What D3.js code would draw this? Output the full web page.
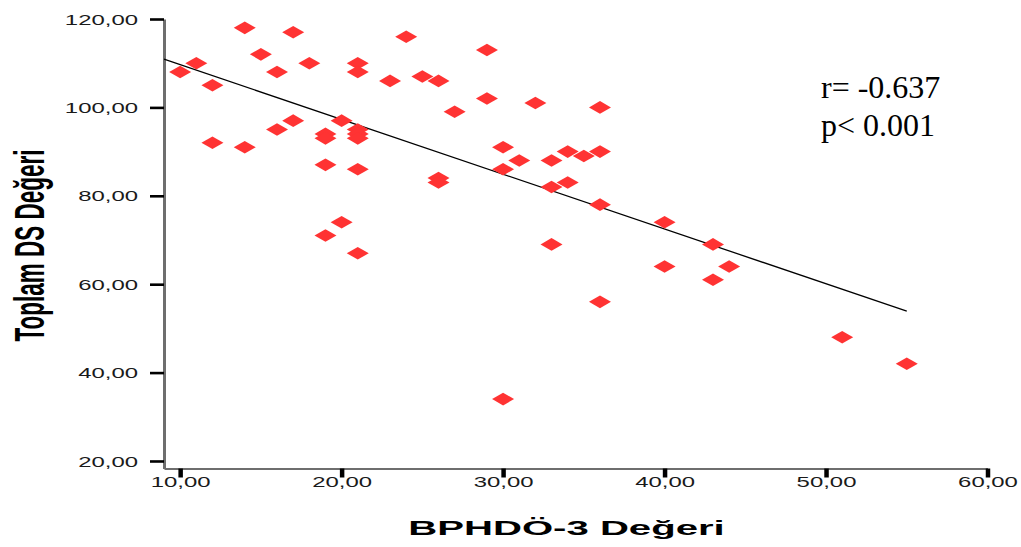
<!DOCTYPE html>
<html>
<head>
<meta charset="utf-8">
<script src="https://cdn.jsdelivr.net/npm/d3@7"></script>
<style>
  html, body { margin: 0; padding: 0; background: #ffffff; }
  svg { display: block; }
</style>
</head>
<body>
<svg id="chart" width="1021" height="547"></svg>
<script>
// ---- data ----
const bphdoValues = [10, 11, 12, 12, 14, 14, 15, 16, 16, 17, 17, 18, 19, 19, 19, 19, 20, 20,
  21, 21, 21, 21, 21, 21, 21, 23, 24, 25, 26, 26, 26, 27, 29, 29, 30, 30, 30, 31, 32, 33,
  33, 33, 34, 35, 36, 36, 36, 36, 40, 40, 43, 43, 44, 51, 55, 34];
const dsValues = [108, 110, 105, 92, 118, 91, 112, 108, 95, 117, 97, 110, 94, 93, 87, 71, 97, 74,
  110, 108, 95, 94, 93, 86, 67, 106, 116, 107, 106, 84, 83, 99, 113, 102, 91, 86, 34, 88, 101, 88,
  82, 69, 90, 89, 100, 90, 78, 56, 74, 64, 69, 61, 64, 48, 42, 83];
const fitX = [9, 55];
const fitY = [110.9, 53.9];
const xTicks = [10, 20, 30, 40, 50, 60];
const yTicks = [20, 40, 60, 80, 100, 120];
const xTitle = "BPHDÖ-3 Değeri";
const yTitle = "Toplam DS Değeri";
const statLines = ["r= -0.637", "p< 0.001"];

// ---- drawing ----
const svg = d3.select("#chart");
const fmt = d => d.toFixed(2).replace(".", ",");

const x = d3.scaleLinear().domain([9, 60]).range([164, 987.5]);
const y = d3.scaleLinear().domain([18.3, 120]).range([468.5, 19]);

const sx = 1.65; // horizontal stretch of the reference's axis text

// Y axis
const yAxis = d3.axisLeft(y).tickValues(yTicks).tickFormat(fmt).tickSize(14).tickSizeOuter(0);
const gy = svg.append("g").attr("transform", "translate(164,0)").call(yAxis);
gy.select(".domain").attr("stroke", "#6e6e6e").attr("stroke-width", 3);
gy.selectAll(".tick line").attr("stroke", "#000").attr("stroke-width", 2.6);
gy.selectAll(".tick text")
  .attr("x", null).attr("dy", "0.35em")
  .attr("transform", `translate(-26,0) scale(${sx},1)`)
  .attr("text-anchor", "end")
  .attr("font-family", "Liberation Sans, Arial, sans-serif")
  .attr("font-size", 14.5)
  .attr("fill", "#1a1a1a");

// X axis
const xAxis = d3.axisBottom(x).tickValues(xTicks).tickFormat(fmt).tickSize(9).tickSizeOuter(0);
const gx = svg.append("g").attr("transform", "translate(0,468.5)").call(xAxis);
gx.select(".domain").attr("stroke", "#6e6e6e").attr("stroke-width", 2);
gx.selectAll(".tick line").attr("stroke", "#000").attr("stroke-width", 4.5);
gx.selectAll(".tick text")
  .attr("y", null).attr("dy", null)
  .attr("transform", `translate(0,18.5) scale(${sx},1)`)
  .attr("text-anchor", "middle")
  .attr("font-family", "Liberation Sans, Arial, sans-serif")
  .attr("font-size", 14.5)
  .attr("fill", "#1a1a1a");

// Regression line
const line = d3.line().x(d => x(d[0])).y(d => y(d[1]));
svg.append("path")
  .datum(d3.zip(fitX, fitY))
  .attr("d", line)
  .attr("fill", "none")
  .attr("stroke", "#000")
  .attr("stroke-width", 1.3);

// Points (diamonds, stretched as in the reference)
const pts = d3.zip(bphdoValues, dsValues);
const hw = 11, hh = 6.3;
svg.append("g").selectAll("path")
  .data(pts)
  .join("path")
  .attr("d", d => {
    const cx = x(d[0]), cy = y(d[1]);
    return `M${cx - hw},${cy}L${cx},${cy - hh}L${cx + hw},${cy}L${cx},${cy + hh}Z`;
  })
  .attr("fill", "#ff3333");

// Axis titles
svg.append("text")
  .attr("transform", `translate(566.5,535) scale(1.91,1)`)
  .attr("text-anchor", "middle")
  .attr("font-family", "Liberation Sans, Arial, sans-serif")
  .attr("font-weight", "bold")
  .attr("font-size", 21)
  .attr("fill", "#000")
  .text(xTitle);

svg.append("text")
  .attr("transform", `translate(43.5,245.5) scale(1.9,1) rotate(-90)`)
  .attr("text-anchor", "middle")
  .attr("font-family", "Liberation Sans, Arial, sans-serif")
  .attr("font-weight", "bold")
  .attr("font-size", 22.5)
  .attr("fill", "#000")
  .text(yTitle);

// Stats annotation
svg.append("g").selectAll("text")
  .data(statLines)
  .join("text")
  .attr("x", 821)
  .attr("y", (d, i) => 98 + i * 38)
  .attr("font-family", "Liberation Serif, Times New Roman, serif")
  .attr("font-size", 32)
  .attr("fill", "#000")
  .text(d => d);
</script>
</body>
</html>
